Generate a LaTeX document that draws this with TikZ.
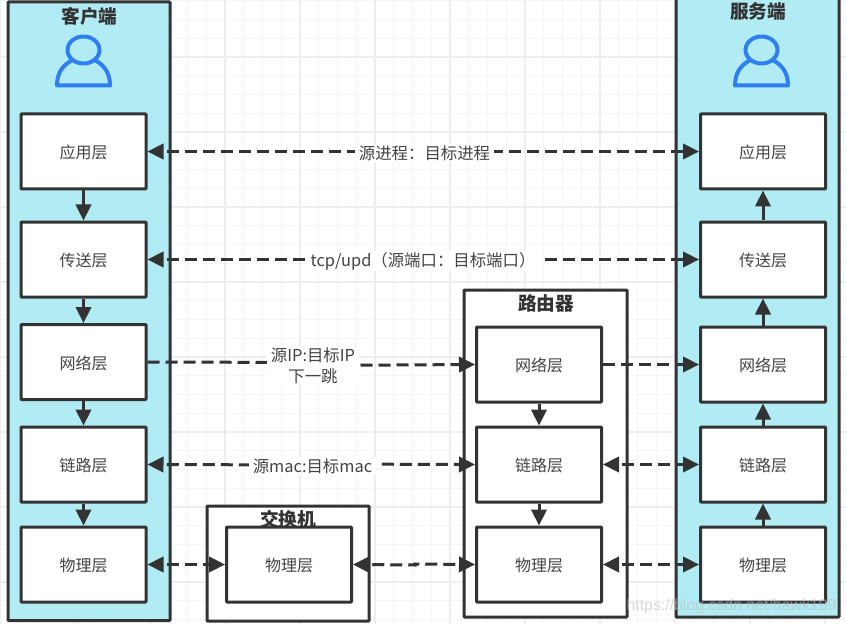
\documentclass[tikz,border=0pt]{standalone}
\usepackage{fontspec}
\setmainfont{Noto Sans CJK SC}
\newfontfamily\wmfont{Liberation Sans}
\usetikzlibrary{arrows.meta}
\definecolor{ink}{HTML}{333333}
\definecolor{txt}{HTML}{444444}
\definecolor{panel}{HTML}{B1EBF3}
\definecolor{userblue}{HTML}{2F7FF2}
\definecolor{gridminor}{HTML}{F5F5F5}
\definecolor{gridmajor}{HTML}{EEEEEE}
\tikzset{
  x=0.75pt,y=-0.75pt,
  layerbox/.style={draw=ink,fill=white,line width=2.25pt,rounded corners=0.6pt,minimum width=93.75pt,minimum height=56.25pt,inner sep=0pt,text=txt,text height=11pt,text depth=0pt,font=\fontsize{12}{14}\selectfont},
  panelbox/.style={draw=ink,line width=2.25pt,rounded corners=0.6pt},
  titletext/.style={inner sep=0pt,text=ink,font=\fontsize{14}{16}\selectfont\bfseries},
  linklabel/.style={fill=white,inner xsep=3pt,inner ysep=1pt,text=txt,align=center,font=\fontsize{12.3}{15.5}\selectfont},
  flow/.style={draw=ink,line width=2.25pt,dash pattern=on 9pt off 4.5pt,dash phase=10.5pt},
  both/.style={flow,{Triangle[length=12pt,width=11.5pt]}-{Triangle[length=12pt,width=11.5pt]}},
  single/.style={flow,-{Triangle[length=12pt,width=11.5pt]}},
  updown/.style={draw=ink,line width=2.25pt,-{Triangle[length=12pt,width=11.5pt]}},
  userline/.style={draw=userblue,line width=3pt,line join=round,line cap=round}
}
\newcommand{\usericon}[2]{%
  \draw[userline] (#1-26.5,#2+35.5) .. controls (#1-26.5,#2+22) and (#1-20,#2+15) .. (#1-12,#2+10.5)
     -- (#1+12,#2+10.5) .. controls (#1+20,#2+15) and (#1+26.5,#2+22) .. (#1+26.5,#2+35.5) -- cycle;
  \draw[userline,fill=panel] (#1,#2) ellipse [x radius=16,y radius=13.5];
}
\begin{document}
\begin{tikzpicture}
\useasboundingbox (0,0) rectangle (846,624);
\clip (0,0) rectangle (846,624);
\fill[white] (0,0) rectangle (846,624);
% grid
\foreach \k in {-11,...,33} {
  \pgfmathsetmacro{\gx}{225+18.75*\k}
  \draw[gridminor,line width=0.9pt] (\gx,0) -- (\gx,624);
}
\foreach \k in {-3,...,30} {
  \pgfmathsetmacro{\gy}{57+18.75*\k}
  \draw[gridminor,line width=0.9pt] (0,\gy) -- (846,\gy);
}
\foreach \k in {-3,...,8} {
  \pgfmathsetmacro{\gx}{225+75*\k}
  \draw[gridmajor,line width=0.9pt] (\gx,0) -- (\gx,624);
}
\foreach \k in {0,...,7} {
  \pgfmathsetmacro{\gy}{57+75*\k}
  \draw[gridmajor,line width=0.9pt] (0,\gy) -- (846,\gy);
}
% panels
\draw[panelbox,fill=panel] (8,2) rectangle (170,620.5);
\draw[panelbox,fill=panel] (676,-5) rectangle (839,617);
\draw[panelbox,fill=white] (464,290) rectangle (627,617);
\draw[panelbox,fill=white] (207,506) rectangle (369,621);
% titles
\node[titletext] (tclient) at (89.5,16.5) {客户端};
\node[titletext] (tserver) at (758,11.5) {服务端};
\node[titletext] (trouter) at (546,303.5) {路由器};
\node[titletext] (tswitch) at (288,519.5) {交换机};
% user icons
\usericon{83.5}{50}
\usericon{761.5}{50}
% client layers
\node[layerbox] (c1) at (83.5,151.5) {应用层};
\node[layerbox] (c2) at (83.5,259.5) {传送层};
\node[layerbox] (c3) at (83.5,362) {网络层};
\node[layerbox] (c4) at (83.5,464.5) {链路层};
\node[layerbox] (c5) at (83.5,564.5) {物理层};
% server layers
\node[layerbox] (s1) at (763,151.5) {应用层};
\node[layerbox] (s2) at (763,259.5) {传送层};
\node[layerbox] (s3) at (763,364.5) {网络层};
\node[layerbox] (s4) at (763,464.5) {链路层};
\node[layerbox] (s5) at (763,564.5) {物理层};
% router layers
\node[layerbox] (r3) at (539,364.5) {网络层};
\node[layerbox] (r4) at (539,464.5) {链路层};
\node[layerbox] (r5) at (539,564.5) {物理层};
% switch
\node[layerbox] (w5) at (289,564.5) {物理层};
% vertical links
\foreach \a/\b in {c1/c2,c2/c3,c3/c4,c4/c5,r3/r4,r4/r5,s5/s4,s4/s3,s3/s2,s2/s1}
  \draw[updown] (\a) -- (\b);
% horizontal links
\coordinate (m3a) at (313,362.5);
\coordinate (m3b) at (313,365.5);
\coordinate (m4a) at (312,465);
\coordinate (m4b) at (312,464);
\coordinate (m6a) at (415,565);
\coordinate (m6b) at (415,564);
\draw[both] (c1) -- (s1);
\draw[both] (c2) -- (s2);
\draw[single,dash phase=0pt] (c3.east) -- (m3a) -- (m3b) -- (r3.west);
\draw[both] (c4.east) -- (m4a) -- (m4b) -- (r4.west);
\draw[both] (c5) -- (w5);
\draw[both] (w5.east) -- (m6a) -- (m6b) -- (r5.west);
\draw[single,dash phase=0pt] (r3) -- (s3);
\draw[both] (r4) -- (s4);
\draw[both] (r5) -- (s5);
% labels
\node[linklabel] (l1) at (424.5,153) {源进程：目标进程};
\node[linklabel] (l2) at (423,261) {tcp/upd（源端口：目标端口）};
\node[linklabel] (l3) at (313,365.5) {源IP:目标IP\\下一跳};
\node[linklabel] (l4) at (312.5,466) {源mac:目标mac};
% watermark
\node[inner sep=0pt,text=gray!50,opacity=0.6,font=\wmfont\fontsize{11.9}{15}\selectfont] (wm) at (731.5,606) {https://blog.csdn.net/hawk199};
\end{tikzpicture}
\end{document}
